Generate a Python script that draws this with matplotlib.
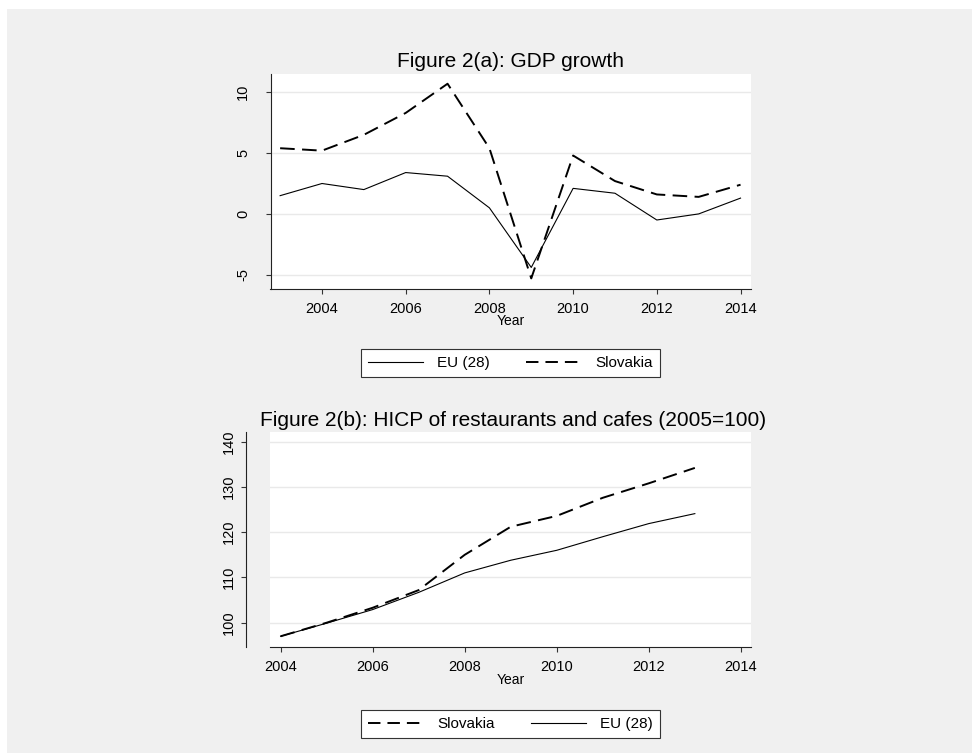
import matplotlib
matplotlib.use("Agg")
import matplotlib.pyplot as plt
from matplotlib.lines import Line2D
from matplotlib.patches import Rectangle

plt.rcParams['font.family'] = ['Liberation Sans', 'DejaVu Sans']

# GDP growth, % change on previous year
years_gdp = [2003, 2004, 2005, 2006, 2007, 2008, 2009, 2010, 2011, 2012, 2013, 2014]
eu_gdp = [1.5, 2.5, 2.0, 3.4, 3.1, 0.5, -4.4, 2.1, 1.7, -0.5, 0.0, 1.3]
sk_gdp = [5.4, 5.2, 6.5, 8.3, 10.7, 5.4, -5.3, 4.8, 2.7, 1.6, 1.4, 2.4]

# HICP restaurants and cafes, 2005 = 100
years_hicp = [2004, 2005, 2006, 2007, 2008, 2009, 2010, 2011, 2012, 2013]
sk_hicp = [97.0, 100.0, 103.3, 107.2, 115.0, 121.2, 123.6, 127.6, 130.8, 134.2]
eu_hicp = [97.0, 99.9, 102.9, 106.7, 111.0, 113.8, 116.0, 119.0, 121.9, 124.1]

x_ticks = [2004, 2006, 2008, 2010, 2012, 2014]
gdp_ticks = [-5, 0, 5, 10]
hicp_ticks = [100, 110, 120, 130, 140]

W, H, DPI = 972, 753, 100
BG = '#f0f0f0'
GRID = '#e9e9e9'
AXC = '#222222'

SOLID = dict(color='black', lw=0.8)
DASHED = dict(color='black', lw=1.4, dashes=(7.5, 3.8))


def style(ax):
    ax.set_facecolor('white')
    for s in ('top', 'right'):
        ax.spines[s].set_visible(False)
    for s in ('left', 'bottom'):
        ax.spines[s].set_color(AXC)
        ax.spines[s].set_linewidth(0.8)
    ax.grid(axis='y', color=GRID, lw=1.0)
    ax.set_axisbelow(True)
    ax.tick_params(length=3.6, width=0.8, color='#333333', labelsize=10.5)
    ax.tick_params(axis='x', pad=6)


def legend(handles, labels, yc):
    leg = fig.legend(handles=handles, labels=labels, loc='center',
                     bbox_to_anchor=(510.5 / W, 1 - yc / H), ncol=2,
                     frameon=True, fancybox=False, edgecolor='#333333',
                     facecolor='white', framealpha=1, fontsize=11,
                     handlelength=3.6, handletextpad=0.9, columnspacing=2.4,
                     borderpad=0.45)
    leg.get_frame().set_linewidth(0.8)
    return leg


fig = plt.figure(figsize=(W / DPI, H / DPI), dpi=DPI, facecolor='white')
fig.patches.append(Rectangle((7 / W, 0), 1, 1 - 9 / H, transform=fig.transFigure,
                             facecolor=BG, edgecolor='none', zorder=-10))

# top panel: GDP growth
ax1 = fig.add_axes([270.5 / W, 1 - 288.5 / H, 480.5 / W, 214.5 / H])
style(ax1)
ax1.plot(years_gdp, eu_gdp, **SOLID)
ax1.plot(years_gdp, sk_gdp, **DASHED)
ax1.set_xlim(2002.77, 2014.25)
ax1.set_ylim(-6.13, 11.5)
ax1.set_xticks(x_ticks)
ax1.set_yticks(gdp_ticks, [str(t) for t in gdp_ticks], rotation=90, va='center')
ax1.tick_params(axis='y', pad=11)
ax1.set_xlabel('Year', fontsize=10, labelpad=-1)
ax1.set_title('Figure 2(a): GDP growth', fontsize=15, pad=5.3)

# bottom panel: HICP, y axis drawn a little away from the plot area
ax2 = fig.add_axes([270 / W, 1 - 646.7 / H, 481 / W, 215 / H])
style(ax2)
ax2.spines['left'].set_position(('outward', 24 * 0.72))
ax2.plot(years_hicp, sk_hicp, **DASHED)
ax2.plot(years_hicp, eu_hicp, **SOLID)
ax2.set_xlim(2003.77, 2014.22)
ax2.set_ylim(94.7, 142.2)
ax2.set_xticks(x_ticks)
ax2.set_yticks(hicp_ticks, [str(t) for t in hicp_ticks], rotation=90, va='center')
ax2.tick_params(axis='y', pad=4)
ax2.set_xlabel('Year', fontsize=10, labelpad=-1)
ax2.set_title('Figure 2(b): HICP of restaurants and cafes (2005=100)',
              fontsize=15, pad=4.1, x=(513 - 270) / 481)

solid_h = Line2D([], [], color='black', lw=0.8)
dashed_h = Line2D([], [], color='black', lw=1.4, dashes=(6.4, 3.6))
legend([solid_h, dashed_h], ['EU (28)', 'Slovakia'], 363.3)
legend([dashed_h, solid_h], ['Slovakia', 'EU (28)'], 724)

fig.savefig('out.png', dpi=DPI, facecolor=fig.get_facecolor())
